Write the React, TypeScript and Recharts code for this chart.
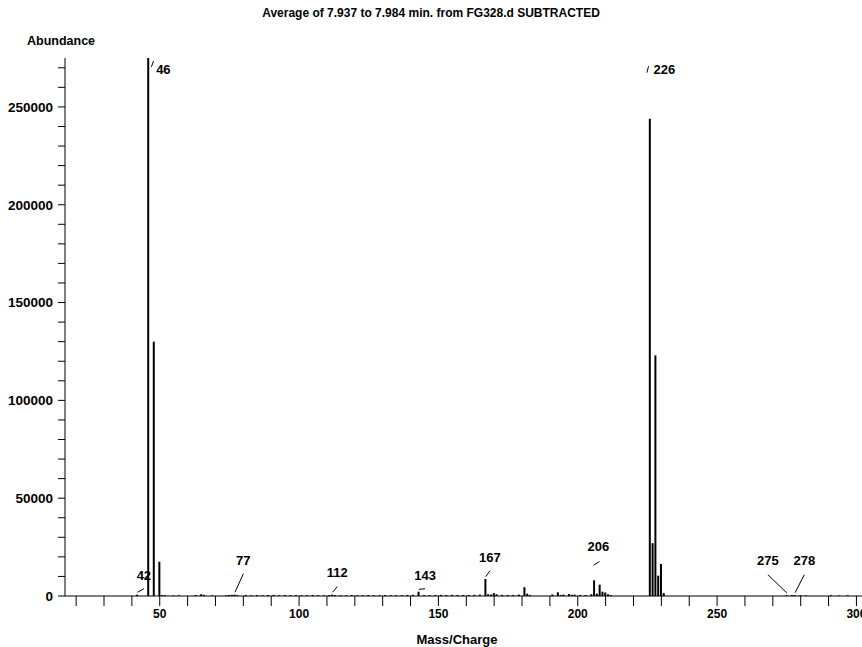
import React from 'react';
import { ComposedChart, Bar, XAxis, YAxis, ReferenceDot, ReferenceLine } from 'recharts';

const FONT = '"Liberation Sans", Arial, Helvetica, sans-serif';

// m/z of every stick and its abundance
const massToCharge = [
  42, 46, 48, 50, 51, 52, 55, 57, 63, 65, 66, 69, 74, 75, 76, 77, 78, 81, 83, 85, 87, 89, 91, 93, 95,
  97, 99, 101, 103, 105, 107, 109, 111, 112, 113, 115, 117, 119, 121, 123, 125, 127, 129, 131, 133,
  135, 137, 139, 141, 143, 145, 147, 149, 151, 153, 155, 157, 159, 161, 163, 165, 167, 168, 169, 170,
  171, 173, 175, 177, 179, 181, 182, 183, 191, 193, 194, 195, 197, 198, 199, 201, 203, 205, 206, 207,
  208, 209, 210, 211, 212, 226, 227, 228, 229, 230, 231, 275, 277, 278, 280, 282, 291, 294, 297,
];
const abundance = [
  700, 275000, 130000, 17500, 500, 400, 300, 400, 500, 900, 600, 300, 400, 500, 600, 700, 400, 500, 400, 500, 400, 500, 600, 400, 500,
  400, 500, 400, 400, 500, 400, 400, 500, 700, 500, 400, 400, 500, 400, 400, 500, 400, 400, 500, 400,
  400, 400, 500, 600, 2200, 500, 400, 500, 600, 500, 600, 500, 500, 500, 600, 700, 8700, 900, 700, 1500,
  900, 600, 500, 500, 700, 4500, 1200, 500, 800, 1900, 500, 700, 1000, 600, 700, 500, 500, 900, 8000, 1200,
  5800, 2200, 1800, 900, 500, 244000, 27000, 123000, 10400, 16400, 1500, 400, 500, 500, 400, 300, 400, 300, 400,
];

const xTicks = [20, 30, 40, 50, 60, 70, 80, 90, 100, 110, 120, 130, 140, 150, 160, 170, 180, 190, 200, 210, 220, 230, 240, 250, 260, 270, 280, 290, 300];
const yTicks = [
  0, 10000, 20000, 30000, 40000, 50000, 60000, 70000, 80000, 90000, 100000, 110000, 120000, 130000, 140000,
  150000, 160000, 170000, 180000, 190000, 200000, 210000, 220000, 230000, 240000, 250000, 260000, 270000,
];

// peak labels: the labelled m/z, and where the number sits (m/z, abundance)
const peakLabels = [
  { mz: 42, text: '42', at: [44.3, 10700] },
  { mz: 46, text: '46', at: [51.3, 269000], lead: [[47.0, 270500], [47.8, 273500]] },
  { mz: 77, text: '77', at: [80.0, 18400] },
  { mz: 112, text: '112', at: [113.7, 11800] },
  { mz: 143, text: '143', at: [145.2, 10700] },
  { mz: 167, text: '167', at: [168.5, 19900] },
  { mz: 206, text: '206', at: [207.4, 25200], lead: [[205.7, 15800], [207.8, 17600]] },
  { mz: 226, text: '226', at: [231.1, 269000], lead: [[224.8, 267500], [225.4, 270800]] },
  { mz: 275, text: '275', at: [268.2, 17900] },
  { mz: 278, text: '278', at: [281.3, 17900] },
];

const peaks = massToCharge.map((mz, i) => ({ mz, abundance: abundance[i] }));

const leaderOf = (l: any) => {
  if (l.lead) return l.lead;
  const top = abundance[massToCharge.indexOf(l.mz)] ?? 0;
  return [[l.mz, top + 1200], [l.at[0], l.at[1] - 7000]];
};

const tickStyle = { fontSize: 12, fontWeight: 'bold', fill: '#000', fontFamily: FONT };

export default function App() {
  return (
    <div style={{ position: 'relative', width: 862, height: 647, background: '#fff', fontFamily: FONT }}>
      <style>{'body{margin:0}'}</style>
      <div style={{ position: 'absolute', top: 6, left: 0, width: 862, textAlign: 'center', fontSize: 12, fontWeight: 'bold', lineHeight: '14px' }}>
        Average of 7.937 to 7.984 min. from FG328.d SUBTRACTED
      </div>
      <div style={{ position: 'absolute', top: 34, left: 27, fontSize: 12.5, fontWeight: 'bold', lineHeight: '14px' }}>
        Abundance
      </div>
      <div style={{ position: 'absolute', top: 632, left: 357, width: 200, textAlign: 'center', fontSize: 13, fontWeight: 'bold', lineHeight: '15px' }}>
        Mass/Charge
      </div>
      <ComposedChart width={862} height={647} data={peaks} margin={{ top: 58, right: 0, bottom: 0, left: 0 }}>
        <XAxis
          dataKey="mz"
          type="number"
          domain={[16, 302]}
          allowDataOverflow
          ticks={xTicks}
          interval={0}
          tickFormatter={(v: number) => (v % 50 === 0 ? String(v) : '')}
          tickSize={10}
          tickMargin={3}
          height={51}
          stroke="#000"
          tick={tickStyle}
        />
        <YAxis
          type="number"
          domain={[0, 275000]}
          allowDataOverflow
          ticks={yTicks}
          interval={0}
          tickFormatter={(v: number) => (v % 50000 === 0 && v <= 250000 ? String(v) : '')}
          tickSize={7}
          tickMargin={5}
          width={65}
          stroke="#000"
          tick={{ ...tickStyle, fontSize: 13.5 }}
        />
        <Bar dataKey="abundance" barSize={2} fill="#000" isAnimationActive={false} />
        {peakLabels.map((l) => {
          const [a, b] = leaderOf(l);
          return (
            <ReferenceLine
              key={'lead-' + l.text}
              segment={[{ x: a[0], y: a[1] }, { x: b[0], y: b[1] }]}
              stroke="#000"
              strokeWidth={1}
              ifOverflow="visible"
            />
          );
        })}
        {peakLabels.map((l) => (
          <ReferenceDot
            key={'lbl-' + l.text}
            x={l.at[0]}
            y={l.at[1]}
            r={0}
            ifOverflow="visible"
            shape={(p: any) => (
              <text x={p.cx} y={p.cy} textAnchor="middle" dominantBaseline="central" fontSize={13} fontWeight="bold" fontFamily={FONT} fill="#000">
                {l.text}
              </text>
            )}
          />
        ))}
      </ComposedChart>
    </div>
  );
}
